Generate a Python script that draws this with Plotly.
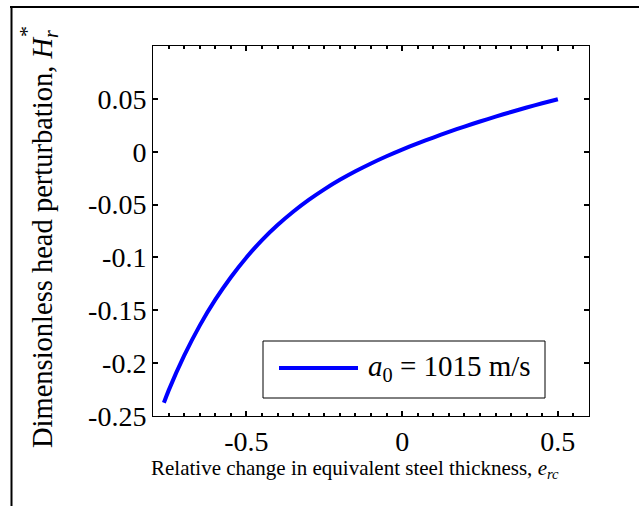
import plotly.graph_objects as go

# ---- data ----
e_rc = [-0.765, -0.75, -0.70, -0.65, -0.60, -0.55, -0.50, -0.45, -0.40, -0.35,
        -0.30, -0.25, -0.20, -0.15, -0.10, -0.05, 0.00, 0.05, 0.10, 0.15,
        0.20, 0.25, 0.30, 0.35, 0.40, 0.45, 0.50]
H_r = [-0.2375, -0.2260, -0.1930, -0.1645, -0.1400, -0.1187, -0.1000, -0.0836, -0.0694, -0.0568,
       -0.0456, -0.0356, -0.0266, -0.0185, -0.0111, -0.0043, 0.0020, 0.0079, 0.0134, 0.0187,
       0.0238, 0.0286, 0.0332, 0.0376, 0.0418, 0.0458, 0.0496]

x_tickvals = [-0.5, 0, 0.5]
x_ticktext = ["-0.5", "0", "0.5"]
y_tickvals = [-0.25, -0.2, -0.15, -0.1, -0.05, 0, 0.05]
y_ticktext = ["-0.25", "-0.2", "-0.15", "-0.1", "-0.05", "0", "0.05"]
legend_label = "<i>a</i><sub>0</sub> = 1015 m/s"
x_title = "Relative change in equivalent steel thickness, <i>e</i><sub><i>rc</i></sub>"
y_title = "Dimensionless head perturbation, <i>H</i><sub><i>r</i></sub>"

# ---- geometry (pixels) ----
W, H = 639, 506
L, R, T, B = 153, 589, 46, 416
pw, ph = R - L, B - T


def px(x):
    return (x - L) / pw


def py(y):
    return (B - y) / ph


FONT = "Liberation Serif, Times New Roman, serif"

fig = go.Figure()
fig.add_trace(go.Scatter(x=e_rc, y=H_r, mode="lines",
                         line=dict(color="#0000ff", width=4, shape="spline", smoothing=0.6),
                         showlegend=False, name="a0 = 1015 m/s"))

axis_common = dict(showgrid=False, zeroline=False, showline=True, linecolor="black",
                   linewidth=1, mirror="ticks", ticks="inside", ticklen=5,
                   tickcolor="black", tickwidth=1.5,
                   tickfont=dict(family=FONT, size=28, color="black"))

fig.update_layout(
    width=W, height=H,
    margin=dict(l=L, r=W - R, t=T, b=H - B, pad=0),
    paper_bgcolor="white", plot_bgcolor="white",
    font=dict(family=FONT, size=26, color="black"),
    xaxis=dict(range=[-0.8, 0.6], tickvals=x_tickvals, ticktext=x_ticktext,
               minor=dict(dtick=0.05, tick0=0, ticks="inside", ticklen=3,
                          tickcolor="black", tickwidth=1.5, showgrid=False),
               ticklabelstandoff=0, **axis_common),
    yaxis=dict(range=[-0.25, 0.1], tickvals=y_tickvals, ticktext=y_ticktext,
               ticklabelstandoff=0, **axis_common),
)

shapes = []
# outer figure border (top and left visible)
shapes.append(dict(type="line", xref="paper", yref="paper",
                   x0=px(10), x1=px(645), y0=py(7), y1=py(7),
                   line=dict(color="black", width=2)))
shapes.append(dict(type="line", xref="paper", yref="paper",
                   x0=px(11.5), x1=px(11.5), y0=py(6), y1=py(520),
                   line=dict(color="black", width=2)))
# legend box
shapes.append(dict(type="rect", xref="paper", yref="paper",
                   x0=px(263), x1=px(545), y0=py(341), y1=py(398),
                   line=dict(color="black", width=1), fillcolor="white"))
shapes.append(dict(type="line", xref="paper", yref="paper",
                   x0=px(279), x1=px(358), y0=py(368), y1=py(368),
                   line=dict(color="#0000ff", width=4)))
fig.update_layout(shapes=shapes)

annotations = [
    dict(text=legend_label, xref="paper", yref="paper", x=px(366), y=py(368),
         xanchor="left", yanchor="middle", showarrow=False,
         font=dict(family=FONT, size=29)),
    dict(text=x_title, xref="paper", yref="paper", x=px(355), y=py(469),
         xanchor="center", yanchor="middle", showarrow=False,
         font=dict(family=FONT, size=21)),
    dict(text=y_title, xref="paper", yref="paper", x=px(44), y=py(239), textangle=-90,
         xanchor="center", yanchor="middle", showarrow=False,
         font=dict(family=FONT, size=28.5)),
    dict(text="*", xref="paper", yref="paper", x=px(27), y=py(32),
         xanchor="center", yanchor="middle", showarrow=False, textangle=-90,
         font=dict(family=FONT, size=22)),
]
fig.update_layout(annotations=annotations)

fig.write_html("out.html", config={"displayModeBar": False},
               post_script="document.body.style.margin='0';")
